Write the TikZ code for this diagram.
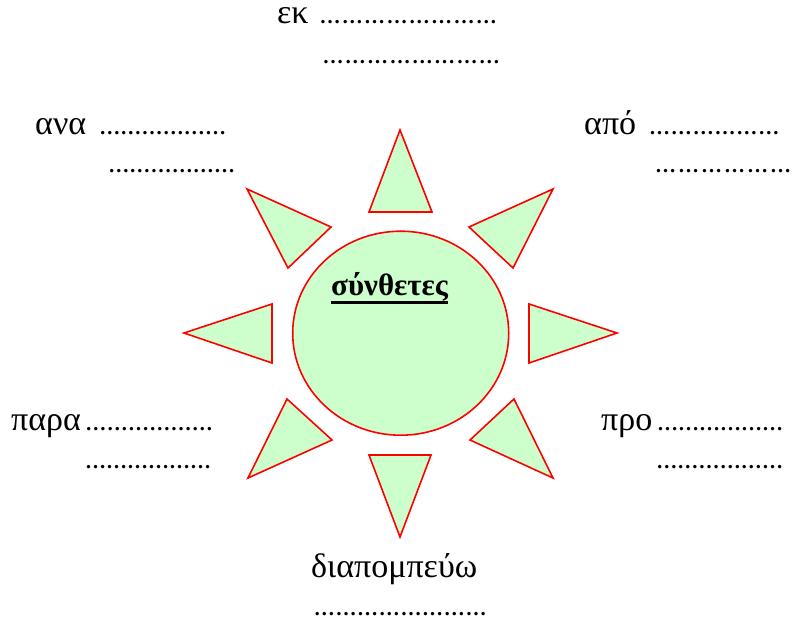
\documentclass[tikz,border=0pt]{standalone}
\usepackage{fontspec}
\setmainfont{Liberation Serif}
\usepackage{tikz}
\usetikzlibrary{shapes.geometric}
\definecolor{sunfill}{RGB}{204,255,204}
\newcommand{\gaps}[1]{\makebox[#1pt][l]{\fontsize{21}{24}\selectfont\bfseries\xleaders\hbox{…}\hfill}}

\begin{document}
\begin{tikzpicture}[x=1pt,y=-1pt,
  ray/.style={draw=red,fill=sunfill,line width=1.6pt,line join=miter},
  word/.style={anchor=base west,inner sep=0pt,font=\fontsize{34}{40}\selectfont}]
\useasboundingbox (0,0) rectangle (805,620);
%sun
\node[ellipse,ray,minimum width=216pt,minimum height=204pt] (sun) at (400.7,333.2) {};
\node[word,font=\fontsize{31}{36}\selectfont\bfseries] (title) at (331,295) {σύνθετες};
\draw[line width=2.8pt] ([yshift=-7.5pt]title.base west) -- ([yshift=-7.5pt]title.base east);
%rays
\draw[ray] (400,130) -- (432,212) -- (369,212) -- cycle;
\draw[ray] (247,189) -- (331,227) -- (288,268) -- cycle;
\draw[ray] (553,189) -- (469,227) -- (513,268) -- cycle;
\draw[ray] (184,333) -- (272,304) -- (272,363) -- cycle;
\draw[ray] (617,333) -- (529,304) -- (529,363) -- cycle;
\draw[ray] (287,399) -- (332,440) -- (248,478) -- cycle;
\draw[ray] (514,399) -- (470,440) -- (553,478) -- cycle;
\draw[ray] (369,455) -- (431,455) -- (400,537) -- cycle;
%words
\node[word] (ek) at (277,24) {εκ};
\node[word] (ekgap) at (318,24) {\gaps{180}};
\node[word] (ekgap2) at (321,64) {\gaps{180}};
\node[word] (ana) at (35,135) {ανα};
\node[word] (anagap) at (99,135) {\gaps{127}};
\node[word] (anagap2) at (108,173) {\gaps{127}};
\node[word] (apo) at (584,135) {από};
\node[word] (apogap) at (648,135) {\gaps{132}};
\node[word] (apogap2) at (653,173) {\gaps{140}};
\node[word] (para) at (11,430) {παρα};
\node[word] (paragap) at (85,430) {\gaps{128}};
\node[word] (paragap2) at (85,468) {\gaps{126}};
\node[word] (pro) at (601,430) {προ};
\node[word] (progap) at (657,430) {\gaps{126}};
\node[word] (progap2) at (656,468) {\gaps{127}};
\node[word] (dia) at (311,577) {διαπομπεύω};
\node[word] (diagap) at (313,615) {\gaps{174}};
\end{tikzpicture}
\end{document}
